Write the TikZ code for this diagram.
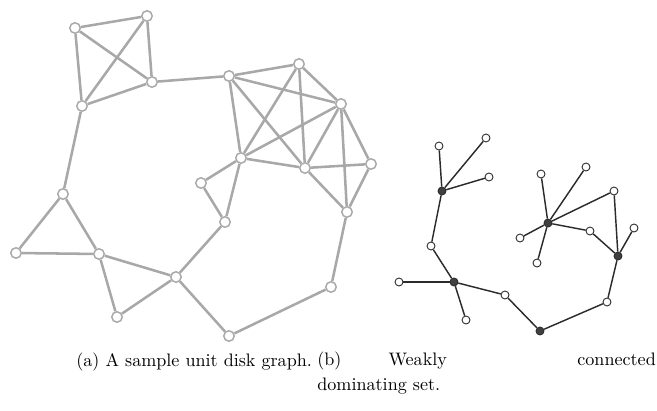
\documentclass[tikz,border=0pt]{standalone}
\usetikzlibrary{positioning}
\definecolor{udgray}{HTML}{A8A8A8}
\definecolor{udink}{HTML}{2B2B2B}
\tikzset{
  udnode/.style={circle,draw=udgray,fill=white,line width=0.8pt,inner sep=0pt,minimum size=5.8pt},
  udedge/.style={draw=udgray,line width=1.4pt},
  wnode/.style={circle,draw=udink,fill=white,line width=0.5pt,inner sep=0pt,minimum size=4.4pt},
  dnode/.style={wnode,fill=udink!90},
  wedge/.style={draw=udink,line width=0.8pt},
  capt/.style={inner sep=0pt,font=\fontsize{10}{13.6}\selectfont},
}
\begin{document}
\begin{tikzpicture}[x=0.5525pt,y=-0.5525pt]
  \useasboundingbox (0,0) rectangle (657,411);
  % (a) unit disk graph
  \foreach \n/\x/\y in {a1/75/28,a2/147/16,a3/152/82,a4/82/106,a5/63/194,a6/16/253,a7/99/254,
    a8/117/317,a9/176/277,a10/229/336,a11/331/287,a12/347/212,a13/225/222,a14/201/183,
    a15/241/158,a16/229/76,a17/299/64,a18/341/104,a19/305/168,a20/371/164}
    \node[udnode] (\n) at (\x,\y) {};
  \foreach \a/\b in {a1/a2,a1/a3,a1/a4,a2/a3,a2/a4,a3/a4,a4/a5,a3/a16,a5/a6,a5/a7,a6/a7,
    a7/a8,a7/a9,a8/a9,a9/a13,a9/a10,a10/a11,a11/a12,a13/a14,a13/a15,a14/a15,
    a16/a17,a16/a18,a16/a15,a16/a19,a17/a15,a17/a19,a17/a18,a15/a18,a15/a19,
    a18/a19,a18/a20,a18/a12,a19/a20,a19/a12,a20/a12}
    \draw[udedge] (\a) -- (\b);
  % (b) weakly connected dominating set
  \foreach \n/\x/\y in {b1/439/146,b2/486/138,b3/489/177,b5/431/246,b6/399/282,b8/466/320,
    b9/505/295,b11/607/302,b13/634/228,b14/614/191,b16/541/174,b17/586/167,b18/520/238,
    b19/537/263,b20/590/231}
    \node[wnode] (\n) at (\x,\y) {};
  \foreach \n/\x/\y in {b4/442/191,b7/454/282,b10/540/331,b12/618/256,b15/548/223}
    \node[dnode] (\n) at (\x,\y) {};
  \foreach \a/\b in {b4/b1,b4/b2,b4/b3,b4/b5,b5/b7,b7/b6,b7/b8,b7/b9,b9/b10,b10/b11,
    b11/b12,b12/b13,b12/b14,b12/b20,b20/b15,b15/b14,b15/b16,b15/b17,b15/b18,b15/b19}
    \draw[wedge] (\a) -- (\b);
  % captions
  \node[capt,anchor=base west] (capa) at (76,366) {(a) A sample unit disk graph.};
  \node[capt,anchor=north west,text width=187.5pt,align=left] (capb) at (317,352)
    {\makebox[187pt][l]{(b)\hspace{26pt}Weakly\hfill connected}\\dominating set.};
\end{tikzpicture}
\end{document}
